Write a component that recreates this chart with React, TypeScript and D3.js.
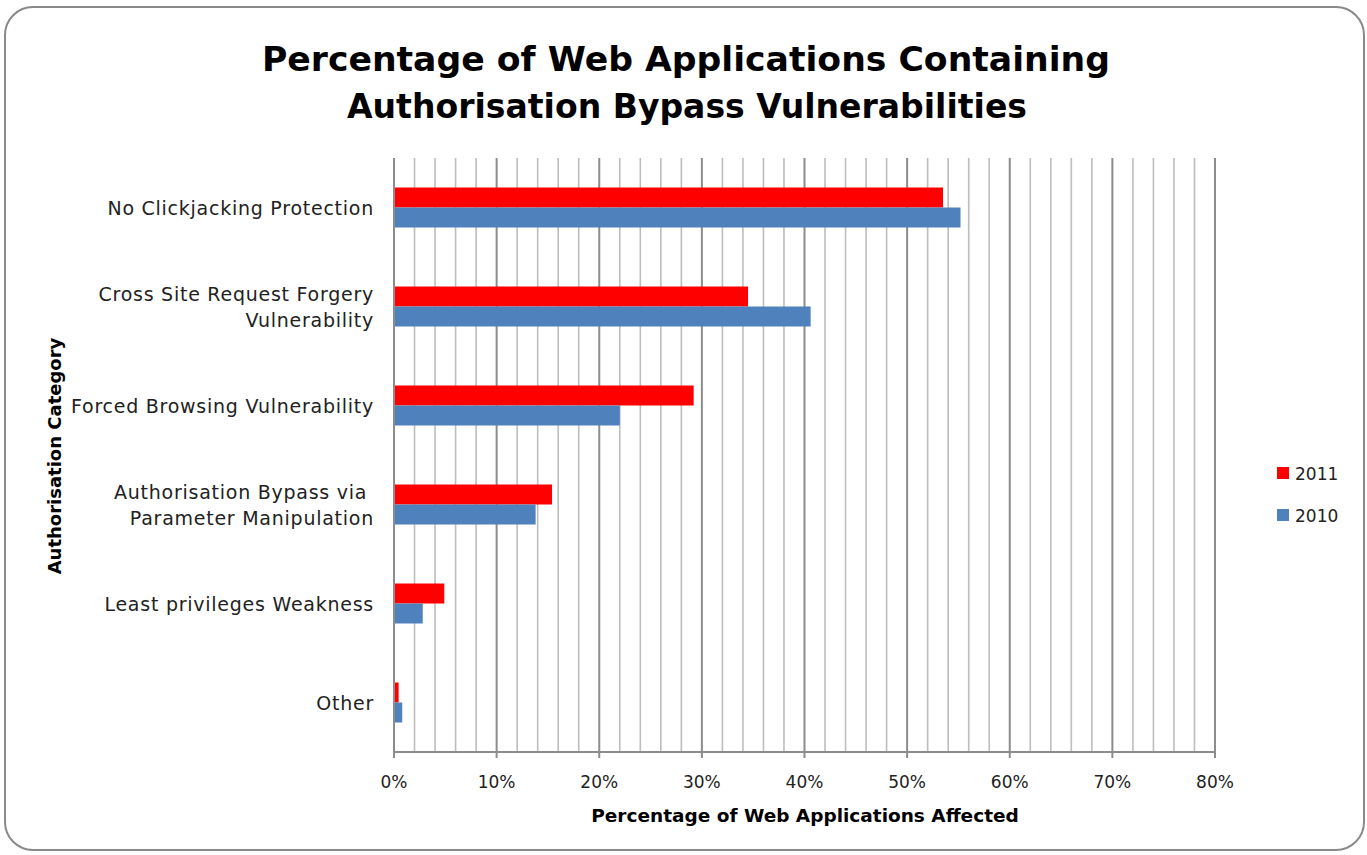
import React from "react";
import * as d3 from "d3";

const categories = [
  "No Clickjacking Protection",
  "Cross Site Request Forgery|Vulnerability",
  "Forced Browsing Vulnerability",
  "Authorisation Bypass via |Parameter Manipulation",
  "Least privileges Weakness",
  "Other",
];
const series2011 = [53.5, 34.5, 29.2, 15.4, 4.9, 0.45];
const series2010 = [55.2, 40.6, 22.0, 13.8, 2.8, 0.8];
const seriesNames = ["2011", "2010"];
const seriesColors = ["#ff0000", "#4f81bd"];
const majorTicks = [0, 10, 20, 30, 40, 50, 60, 70, 80];

const W = 1367;
const H = 855;
const plot = { left: 394, right: 1215, top: 158, bottom: 752 };
const labelFont = "'DejaVu Sans', sans-serif";
const boldFont = "'DejaVu Sans', sans-serif";

export default function App() {
  const x = d3.scaleLinear().domain([0, 80]).range([plot.left, plot.right]);
  const y = d3.scaleBand<string>().domain(categories).range([plot.top, plot.bottom]);
  const inner = d3.scaleBand<string>().domain(seriesNames).range([0, 40]);
  const minorTicks = d3.range(0, 81, 2);
  const values = [series2011, series2010];

  return (
    <svg
      width={W}
      height={H}
      style={{ position: "absolute", left: 0, top: 0, background: "#fff" }}
    >
      <rect x={5} y={7} width={1359} height={843} rx={28} ry={28} fill="#fff" stroke="#8a8a8a" strokeWidth={2} />
      <text x={686} y={71} textAnchor="middle" fontFamily={boldFont} fontWeight="bold" fontSize={34} fill="#000" textLength={848} lengthAdjust="spacingAndGlyphs">
        Percentage of Web Applications Containing
      </text>
      <text x={687} y={118} textAnchor="middle" fontFamily={boldFont} fontWeight="bold" fontSize={34} fill="#000" textLength={680} lengthAdjust="spacingAndGlyphs">
        Authorisation Bypass Vulnerabilities
      </text>

      {minorTicks.map((t) => (
        <line
          key={"g" + t}
          x1={x(t)}
          x2={x(t)}
          y1={plot.top}
          y2={plot.bottom}
          stroke={t % 10 === 0 ? "#8c8c8c" : "#bdbdbd"}
          strokeWidth={t % 10 === 0 ? 2 : 1.6}
        />
      ))}
      <line x1={plot.left} x2={plot.right} y1={plot.bottom} y2={plot.bottom} stroke="#8c8c8c" strokeWidth={2} />
      {majorTicks.map((t) => (
        <line key={"t" + t} x1={x(t)} x2={x(t)} y1={plot.bottom} y2={plot.bottom + 6} stroke="#8c8c8c" strokeWidth={2} />
      ))}
      <line x1={plot.left} x2={plot.left} y1={plot.top} y2={plot.bottom} stroke="#8c8c8c" strokeWidth={2} />

      {categories.map((c, i) =>
        values.map((vals, s) => (
          <rect
            key={c + s}
            x={x(0) + 1}
            y={(y(c) as number) + y.bandwidth() / 2 - 20 + (inner(seriesNames[s]) as number)}
            width={x(vals[i]) - x(0) - 1}
            height={inner.bandwidth()}
            fill={seriesColors[s]}
          />
        ))
      )}

      {categories.map((c) => {
        const lines = c.split("|");
        const cy = (y(c) as number) + y.bandwidth() / 2;
        return (
          <text
            key={"l" + c}
            textAnchor="end"
            fontFamily={labelFont}
            fontSize={19}
            letterSpacing={0.75}
            fill="#222"
          >
            {lines.map((ln, k) => (
              <tspan key={k} x={374} y={cy + 7 + (k - (lines.length - 1) / 2) * 26}>
                {ln}
              </tspan>
            ))}
          </text>
        );
      })}

      {majorTicks.map((t) => (
        <text key={"x" + t} x={x(t)} y={788} textAnchor="middle" fontFamily={labelFont} fontSize={17} fill="#222">
          {t}%
        </text>
      ))}

      <text x={805} y={822} textAnchor="middle" fontFamily={boldFont} fontWeight="bold" fontSize={18.5} fill="#000">
        Percentage of Web Applications Affected
      </text>
      <text
        transform="translate(61,456) rotate(-90)"
        textAnchor="middle"
        fontFamily={boldFont}
        fontWeight="bold"
        fontSize={18}
        fill="#000"
      >
        Authorisation Category
      </text>

      {seriesNames.map((n, s) => (
        <g key={"lg" + n} transform={`translate(1277, ${467 + s * 42})`}>
          <rect width={12} height={12} fill={seriesColors[s]} />
          <text x={18} y={13} fontFamily={labelFont} fontSize={17} fill="#222">
            {n}
          </text>
        </g>
      ))}
    </svg>
  );
}
